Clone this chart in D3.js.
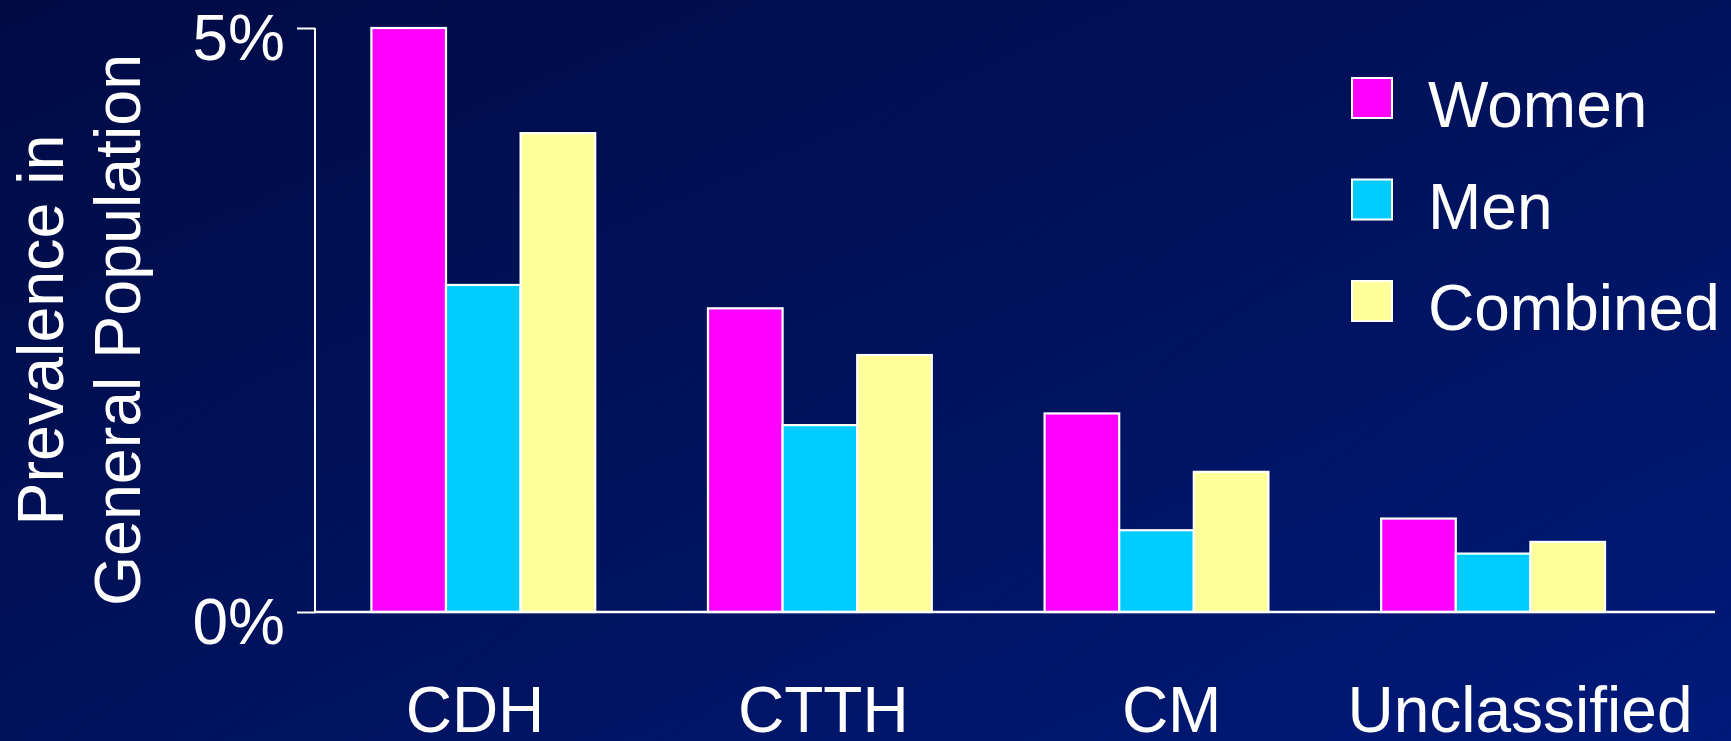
<!DOCTYPE html>
<html>
<head>
<meta charset="utf-8">
<script src="https://cdn.jsdelivr.net/npm/d3@7"></script>
<style>
  html, body { margin: 0; padding: 0; background: #000f52; }
  svg { display: block; }
  text { font-family: "Liberation Sans", Arial, sans-serif; fill: #ffffff; }
</style>
</head>
<body>
<svg id="chart" width="1731" height="741"></svg>
<script>
// Prevalence of chronic daily headache subtypes by sex (% of general population)
const categories = ["CDH", "CTTH", "CM", "Unclassified"];
const seriesNames = ["Women", "Men", "Combined"];
const women    = [5.0, 2.6, 1.7, 0.8];
const men      = [2.8, 1.6, 0.7, 0.5];
const combined = [4.1, 2.2, 1.2, 0.6];
const seriesColors = ["#ff00ff", "#00ccff", "#ffff99"];
const yTicks = [0, 5];
const yTickLabels = ["0%", "5%"];
const yTitleLines = ["Prevalence in", "General Population"];

const seriesValues = [women, men, combined];
const rows = categories.map((c, i) => ({
  category: c,
  values: seriesNames.map((s, j) => ({ series: s, value: seriesValues[j][i] }))
}));

const W = 1731, H = 741;
const svg = d3.select("#chart");

// Background: dark blue diagonal gradient with faint hairlines
const defs = svg.append("defs");
const grad = defs.append("linearGradient")
  .attr("id", "bg").attr("x1", "0").attr("y1", "0").attr("x2", "1").attr("y2", "1");
grad.append("stop").attr("offset", "0%").attr("stop-color", "#000b44");
grad.append("stop").attr("offset", "55%").attr("stop-color", "#00135f");
grad.append("stop").attr("offset", "100%").attr("stop-color", "#001a7a");

const pat = defs.append("pattern")
  .attr("id", "hair").attr("patternUnits", "userSpaceOnUse")
  .attr("width", 90).attr("height", 90)
  .attr("patternTransform", "rotate(-37)");
pat.append("line").attr("x1", 0).attr("y1", 0).attr("x2", 90).attr("y2", 0)
  .attr("stroke", "#000834").attr("stroke-width", 1).attr("stroke-opacity", 0.4);

svg.append("rect").attr("width", W).attr("height", H).attr("fill", "url(#bg)");
svg.append("rect").attr("width", W).attr("height", H).attr("fill", "url(#hair)");

// Scales
const plotLeft = 315, plotRight = 1661.4, baseY = 612, topY = 28;
const x0 = d3.scaleBand().domain(categories).range([plotLeft, plotRight])
  .paddingInner(0.335).paddingOuter(0.1675);
const x1 = d3.scaleBand().domain(seriesNames).range([0, x0.bandwidth()]);
const y = d3.scaleLinear().domain([0, 5]).range([baseY, topY]);
const color = d3.scaleOrdinal().domain(seriesNames).range(seriesColors);
const xLabel = d3.scalePoint().domain(categories).range([475, 1520]);

// Bars
const groups = svg.append("g").selectAll("g").data(rows).join("g")
  .attr("transform", d => `translate(${x0(d.category)},0)`);
groups.selectAll("rect").data(d => d.values).join("rect")
  .attr("x", d => x1(d.series))
  .attr("y", d => y(d.value))
  .attr("width", x1.bandwidth())
  .attr("height", d => y(0) - y(d.value))
  .attr("fill", d => color(d.series))
  .attr("stroke", "#ffffff")
  .attr("stroke-width", 2.2);

// Y axis
const yAxis = d3.axisLeft(y).tickValues(yTicks)
  .tickFormat((d, i) => yTickLabels[i]).tickSize(18).tickPadding(12);
const gy = svg.append("g").attr("transform", `translate(${plotLeft},0)`).call(yAxis);
gy.select(".domain").attr("stroke", "#ffffff").attr("stroke-width", 2)
  .attr("d", `M0,${topY}V${baseY}`);
gy.selectAll(".tick line").attr("stroke", "#ffffff").attr("stroke-width", 2);
gy.selectAll(".tick text")
  .attr("fill", "#ffffff")
  .style("font-family", '"Liberation Sans", Arial, sans-serif')
  .style("font-size", "64px")
  .attr("dy", null).attr("y", 31);

// Baseline across the plot
svg.append("line")
  .attr("x1", plotLeft).attr("x2", 1715)
  .attr("y1", baseY).attr("y2", baseY)
  .attr("stroke", "#ffffff").attr("stroke-width", 2.4);

// Category labels
svg.append("g").selectAll("text").data(categories).join("text")
  .attr("x", d => xLabel(d))
  .attr("y", 732)
  .attr("text-anchor", "middle")
  .style("font-size", "64px")
  .text(d => d);

// Y title (two rotated lines)
svg.append("g").selectAll("text").data(yTitleLines).join("text")
  .attr("transform", (d, i) => `translate(${63 + i * 77},330) rotate(-90)`)
  .attr("text-anchor", "middle")
  .style("font-size", "64.5px")
  .text(d => d);

// Legend
const legend = svg.append("g").selectAll("g").data(seriesNames).join("g")
  .attr("transform", (d, i) => `translate(1352,${78 + i * 101.5})`);
legend.append("rect")
  .attr("width", 40).attr("height", 40)
  .attr("fill", d => color(d))
  .attr("stroke", "#ffffff").attr("stroke-width", 2);
legend.append("text")
  .attr("x", 76).attr("y", 49)
  .style("font-size", "64px")
  .text(d => d);
</script>
</body>
</html>
